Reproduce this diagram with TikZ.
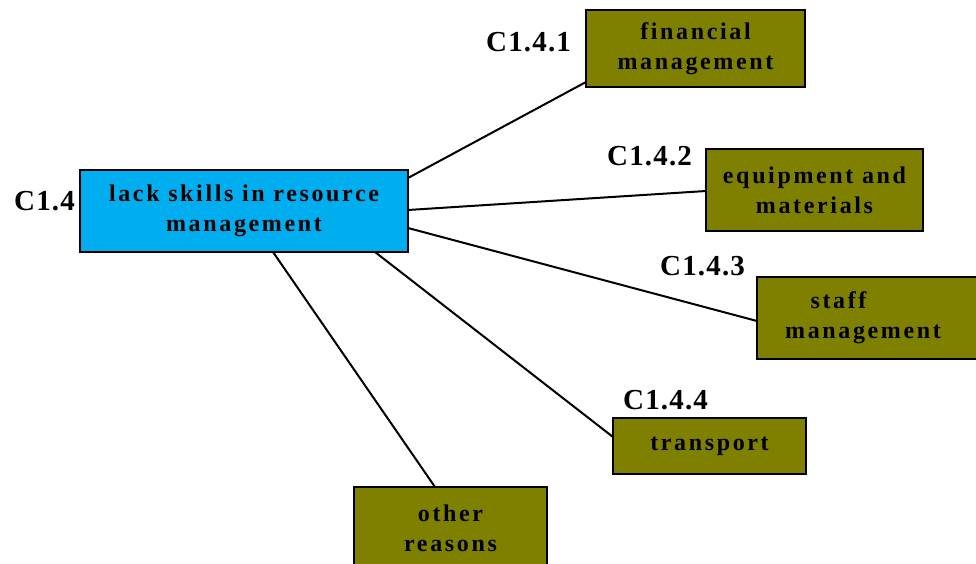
\documentclass[tikz,border=0pt]{standalone}
\usepackage{fontspec}
\setmainfont{Liberation Serif}
\newfontfamily\boxfont{Liberation Serif}[LetterSpace=11]
\newfontfamily\codefont{Liberation Serif}[LetterSpace=4]
\usetikzlibrary{calc}
\definecolor{mainblue}{RGB}{0,174,239}
\definecolor{olivebox}{RGB}{128,128,0}

\begin{document}
\begin{tikzpicture}[x=1pt,y=-1pt,
  box/.style={draw=black, line width=2.5pt, inner sep=0pt, outer sep=0pt,
    align=center, font=\boxfont\bfseries\fontsize{24}{30}\selectfont},
  problem/.style={box, fill=mainblue},
  cause/.style={box, fill=olivebox},
  code/.style={font=\codefont\bfseries\fontsize{29}{30}\selectfont,
    inner sep=0pt, anchor=base west},
  link/.style={line width=2pt}]
\useasboundingbox (0,0) rectangle (976,564);

% central problem
\node[problem, minimum width=328pt, minimum height=82pt] (main) at (244,211)
  {lack skills in resource\\management};

% contributing causes
\node[cause, minimum width=219pt, minimum height=77pt] (fin) at (695.5,48.5)
  {financial\\management};
\node[cause, minimum width=217pt, minimum height=82pt] (equip) at (814.5,190)
  {equipment and\\materials};
\node[cause, minimum width=221pt, minimum height=82pt] (staff) at (867.5,318)
  {staff\hspace*{58pt}\\management\hspace*{9pt}};
\node[cause, minimum width=193pt, minimum height=56pt] (trans) at (709.5,446)
  {transport};
\node[cause, minimum width=193pt, minimum height=83pt] (other) at (450.5,528.5)
  {other\\reasons};

% codes
\node[code] (c14)  at (14,210)  {C1.4};
\node[code] (c141) at (486,52)  {C1.4.1};
\node[code] (c142) at (607,166) {C1.4.2};
\node[code] (c143) at (660,275) {C1.4.3};
\node[code] (c144) at (623,409) {C1.4.4};

% connectors
\draw[link] ($(main.north east)+(0,8)$) -- ($(fin.south west)+(0,-5)$);
\draw[link] ($(main.east)+(0,-1)$) -- ($(equip.west)+(0,1)$);
\draw[link] ($(main.east)+(0,17)$) -- ($(staff.west)+(0,3)$);
\draw[link] ($(main.south west)+(295,0)$) -- ($(trans.west)+(0,-9)$);
\draw[link] ($(main.south west)+(193,0)$) -- ($(other.north west)+(81,0)$);
\end{tikzpicture}
\end{document}
